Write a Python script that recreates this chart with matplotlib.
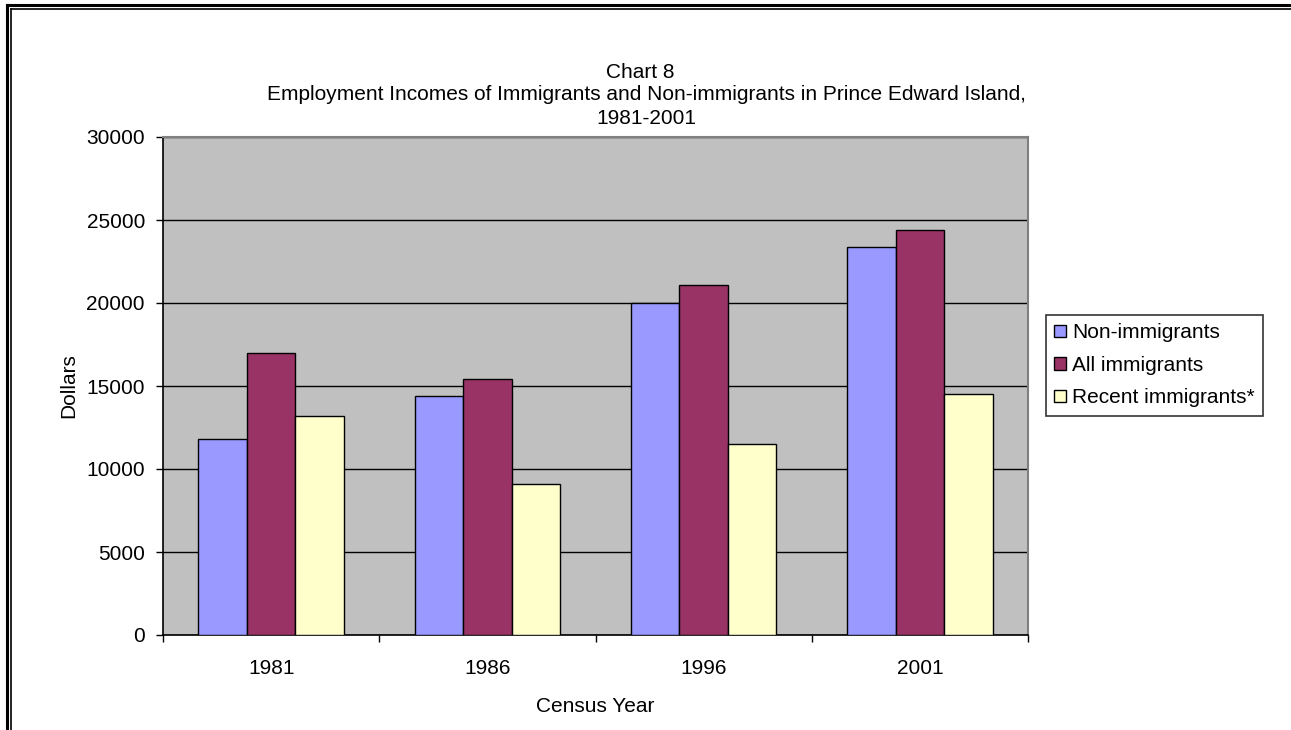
import matplotlib
matplotlib.use("Agg")
import matplotlib.pyplot as plt
import numpy as np
from matplotlib.lines import Line2D
from matplotlib.patches import Patch

plt.rcParams['font.family'] = ['Liberation Sans', 'DejaVu Sans']

years = ["1981", "1986", "1996", "2001"]
series_names = ["Non-immigrants", "All immigrants", "Recent immigrants*"]
non_immigrants = [11800, 14400, 20000, 23400]
all_immigrants = [17000, 15400, 21100, 24400]
recent_immigrants = [13200, 9100, 11500, 14500]
yticks = [0, 5000, 10000, 15000, 20000, 25000, 30000]

colors = ["#9999FF", "#993366", "#FFFFCC"]
series = [non_immigrants, all_immigrants, recent_immigrants]

W, H = 1291, 730
fig = plt.figure(figsize=(W / 100, H / 100), dpi=100)
ax = fig.add_axes([163 / W, 1 - 635 / H, (1028 - 163) / W, (635 - 137) / H])
ax.set_facecolor("#C0C0C0")

x = np.arange(len(years))
bw = 0.224
for i, (vals, c, name) in enumerate(zip(series, colors, series_names)):
    ax.bar(x + (i - 1) * bw, vals, width=bw, color=c, edgecolor="black",
           linewidth=1.0, label=name, zorder=3)

ax.set_xlim(-0.5, len(years) - 0.5)
ax.set_ylim(0, 30000)
ax.set_yticks(yticks)
ax.set_yticklabels([str(v) for v in yticks], fontsize=15)
ax.yaxis.grid(True, color="black", linewidth=1.0, zorder=1)
ax.set_axisbelow(True)

ax.set_xticks(x)
ax.set_xticklabels(years, fontsize=15)
ax.set_xticks(np.arange(-0.5, len(years)), minor=True)
ax.tick_params(axis="x", which="major", length=0, pad=17)
ax.tick_params(axis="x", which="minor", length=5, width=1.0, direction="out")
ax.tick_params(axis="y", length=5, width=1.0, direction="out", pad=8)

for s in ["top", "right"]:
    ax.spines[s].set_color("#808080")
    ax.spines[s].set_linewidth(1.5)
for s in ["left", "bottom"]:
    ax.spines[s].set_color("black")
    ax.spines[s].set_linewidth(1.2)

ax.set_xlabel("Census Year", fontsize=15, labelpad=14)
ax.set_ylabel("Dollars", fontsize=15, labelpad=6)

fig.text(640 / W, 1 - 72 / H, "Chart 8", ha="center", va="center", fontsize=15)
fig.text(646 / W, 1 - 95 / H,
         "Employment Incomes of Immigrants and Non-immigrants in Prince Edward Island,",
         ha="center", va="center", fontsize=15)
fig.text(646 / W, 1 - 118 / H, "1981-2001", ha="center", va="center", fontsize=15)

handles = [Patch(facecolor=c, edgecolor="black", linewidth=1.0) for c in colors]
leg = fig.legend(handles, series_names, loc="upper left",
                 bbox_to_anchor=(1046 / W, 1 - 315 / H),
                 fontsize=15, frameon=True, fancybox=False,
                 handlelength=0.55, handleheight=0.55, handletextpad=0.3,
                 borderpad=0.4, labelspacing=0.65, borderaxespad=0)
leg.get_frame().set_edgecolor("black")
leg.get_frame().set_linewidth(1.2)

# double border (left and top)
for xx, lw in [(7, 2.2), (11, 1.2)]:
    fig.add_artist(Line2D([xx / W, xx / W], [0, 1 - (xx - 2) / H], color="black",
                          linewidth=lw, transform=fig.transFigure))
for yy, lw in [(5, 2.2), (8.5, 1.2)]:
    x0 = 7 if yy == 5 else 11
    fig.add_artist(Line2D([x0 / W, 1], [1 - yy / H, 1 - yy / H], color="black",
                          linewidth=lw, transform=fig.transFigure))

fig.savefig("out.png", dpi=100)
